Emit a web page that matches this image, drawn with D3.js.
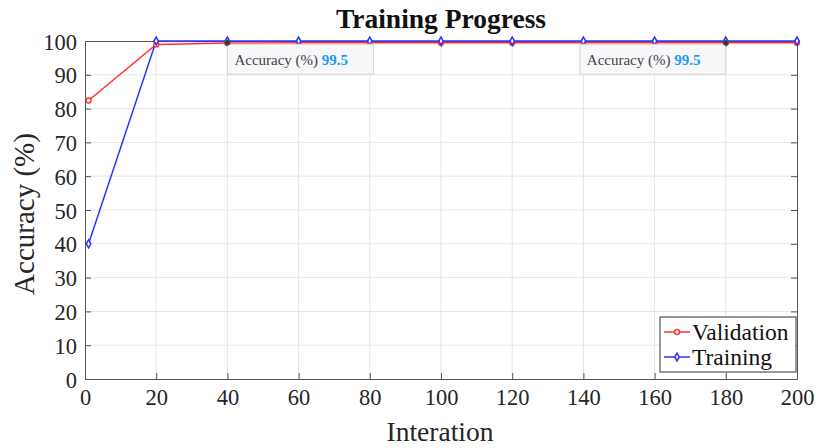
<!DOCTYPE html>
<html><head><meta charset="utf-8">
<script src="https://cdn.jsdelivr.net/npm/d3@7"></script>
<style>body{margin:0;background:#fff;} svg{display:block;}</style>
</head><body>
<svg id="c" width="816" height="448"></svg>
<script>
const iterations = [1, 20, 40, 60, 80, 100, 120, 140, 160, 180, 200];
const validation = [82.4, 99.0, 99.4, 99.5, 99.5, 99.5, 99.5, 99.5, 99.5, 99.5, 99.5];
const training = [40, 100, 100, 100, 100, 100, 100, 100, 100, 100, 100];
const xTicks = [0, 20, 40, 60, 80, 100, 120, 140, 160, 180, 200];
const yTicks = [0, 10, 20, 30, 40, 50, 60, 70, 80, 90, 100];
const tips = [{x: 40, value: 99.5, side: "right"}, {x: 180, value: 99.5, side: "left"}];

const svg = d3.select("#c");
const F = "'Liberation Serif','Times New Roman',serif";
const L = 85, R = 797, T = 41, B = 379;
const x = d3.scaleLinear().domain([0, 200]).range([L, R]);
const y = d3.scaleLinear().domain([0, 100]).range([B, T]);

// grid
svg.append("g").selectAll("line").data(xTicks.slice(1, -1)).join("line")
  .attr("x1", d => x(d)).attr("x2", d => x(d)).attr("y1", T).attr("y2", B)
  .attr("stroke", "#e6e6e6").attr("stroke-width", 1);
svg.append("g").selectAll("line").data(yTicks.slice(1, -1)).join("line")
  .attr("y1", d => y(d)).attr("y2", d => y(d)).attr("x1", L).attr("x2", R)
  .attr("stroke", "#e6e6e6").attr("stroke-width", 1);

// axes
const gx = svg.append("g").attr("transform", `translate(0,${B})`)
  .call(d3.axisBottom(x).tickValues(xTicks).tickSizeInner(-6).tickSizeOuter(0).tickPadding(10));
const gy = svg.append("g").attr("transform", `translate(${L},0)`)
  .call(d3.axisLeft(y).tickValues(yTicks).tickSizeInner(-6).tickSizeOuter(0).tickPadding(8));
const gxt = svg.append("g").attr("transform", `translate(0,${T})`)
  .call(d3.axisTop(x).tickValues(xTicks).tickSizeInner(-6).tickSizeOuter(0).tickFormat(""));
const gyr = svg.append("g").attr("transform", `translate(${R},0)`)
  .call(d3.axisRight(y).tickValues(yTicks).tickSizeInner(-6).tickSizeOuter(0).tickFormat(""));
[gx, gy, gxt, gyr].forEach(g => {
  g.selectAll("path").attr("stroke", "#555").attr("stroke-width", 1);
  g.selectAll("line").attr("stroke", "#555");
  g.selectAll("text").attr("font-family", F).attr("font-size", 22.5).attr("fill", "#262626");
});
gy.selectAll("text").attr("dy", "0.36em");
gx.selectAll("text").attr("dy", "0.72em");

// lines
const line = d3.line().x((d, i) => x(iterations[i])).y(d => y(d));
svg.append("path").datum(validation).attr("d", line).attr("fill", "none").attr("stroke", "#ff3030").attr("stroke-width", 1.5);
svg.append("path").datum(training).attr("d", line).attr("fill", "none").attr("stroke", "#3030ff").attr("stroke-width", 1.5);

svg.append("g").selectAll("circle").data(validation).join("circle")
  .attr("cx", (d, i) => x(iterations[i])).attr("cy", d => y(d)).attr("r", 2.5)
  .attr("fill", "#fff").attr("stroke", "#ff3030").attr("stroke-width", 1.4);
const diamond = d3.symbol().type(d3.symbolDiamond).size(18);
svg.append("g").selectAll("path").data(training).join("path")
  .attr("d", diamond).attr("transform", (d, i) => `translate(${x(iterations[i])},${y(d)})`)
  .attr("fill", "#fff").attr("stroke", "#3030ff").attr("stroke-width", 1.5);

// data tips
tips.forEach(t => {
  const px = x(t.x), py = y(t.value);
  const w = 146, h = 30;
  const bx = t.side === "right" ? px : px - w;
  const by = py + 1.5;
  svg.append("rect").attr("x", bx).attr("y", by).attr("width", w).attr("height", h)
    .attr("fill", "#f7f7fa").attr("stroke", "#d0d0d8").attr("stroke-width", 1);
  const tx = svg.append("text").attr("x", bx + 7).attr("y", by + h / 2 + 5.5)
    .attr("font-family", F).attr("font-size", 15).attr("fill", "#444");
  tx.append("tspan").text("Accuracy (%) ");
  tx.append("tspan").attr("font-weight", "bold").attr("fill", "#1a9cf0").text(t.value);
  svg.append("circle").attr("cx", px).attr("cy", py).attr("r", 2.6).attr("fill", "#333").attr("stroke", "#555");
});

// legend
const lg = svg.append("g");
lg.append("rect").attr("x", 660).attr("y", 317).attr("width", 136).attr("height", 55)
  .attr("fill", "#fff").attr("stroke", "#333").attr("stroke-width", 1);
const items = [{name: "Validation", c: "#ff3030", m: "circle"}, {name: "Training", c: "#3030ff", m: "diamond"}];
items.forEach((it, i) => {
  const cy = 332 + i * 25;
  lg.append("line").attr("x1", 664).attr("x2", 690).attr("y1", cy).attr("y2", cy).attr("stroke", it.c).attr("stroke-width", 1.5);
  if (it.m === "circle") lg.append("circle").attr("cx", 677).attr("cy", cy).attr("r", 2.5).attr("fill", "#fff").attr("stroke", it.c).attr("stroke-width", 1.4);
  else lg.append("path").attr("d", diamond).attr("transform", `translate(677,${cy})`).attr("fill", "#fff").attr("stroke", it.c).attr("stroke-width", 1.5);
  lg.append("text").attr("x", 692).attr("y", cy + 7.5).attr("font-family", F).attr("font-size", 23.5).attr("fill", "#111").text(it.name);
});

// title and labels
svg.append("text").attr("x", (L + R) / 2).attr("y", 28).attr("text-anchor", "middle")
  .attr("font-family", F).attr("font-size", 27.5).attr("font-weight", "bold").attr("fill", "#111").text("Training Progress");
svg.append("text").attr("x", (L + R) / 2 - 1).attr("y", 441).attr("text-anchor", "middle")
  .attr("font-family", F).attr("font-size", 27.5).attr("fill", "#262626").text("Interation");
svg.append("text").attr("transform", `translate(34,${(T + B) / 2 + 4}) rotate(-90)`).attr("text-anchor", "middle")
  .attr("font-family", F).attr("font-size", 29).attr("fill", "#262626").text("Accuracy (%)");
</script>
</body></html>
